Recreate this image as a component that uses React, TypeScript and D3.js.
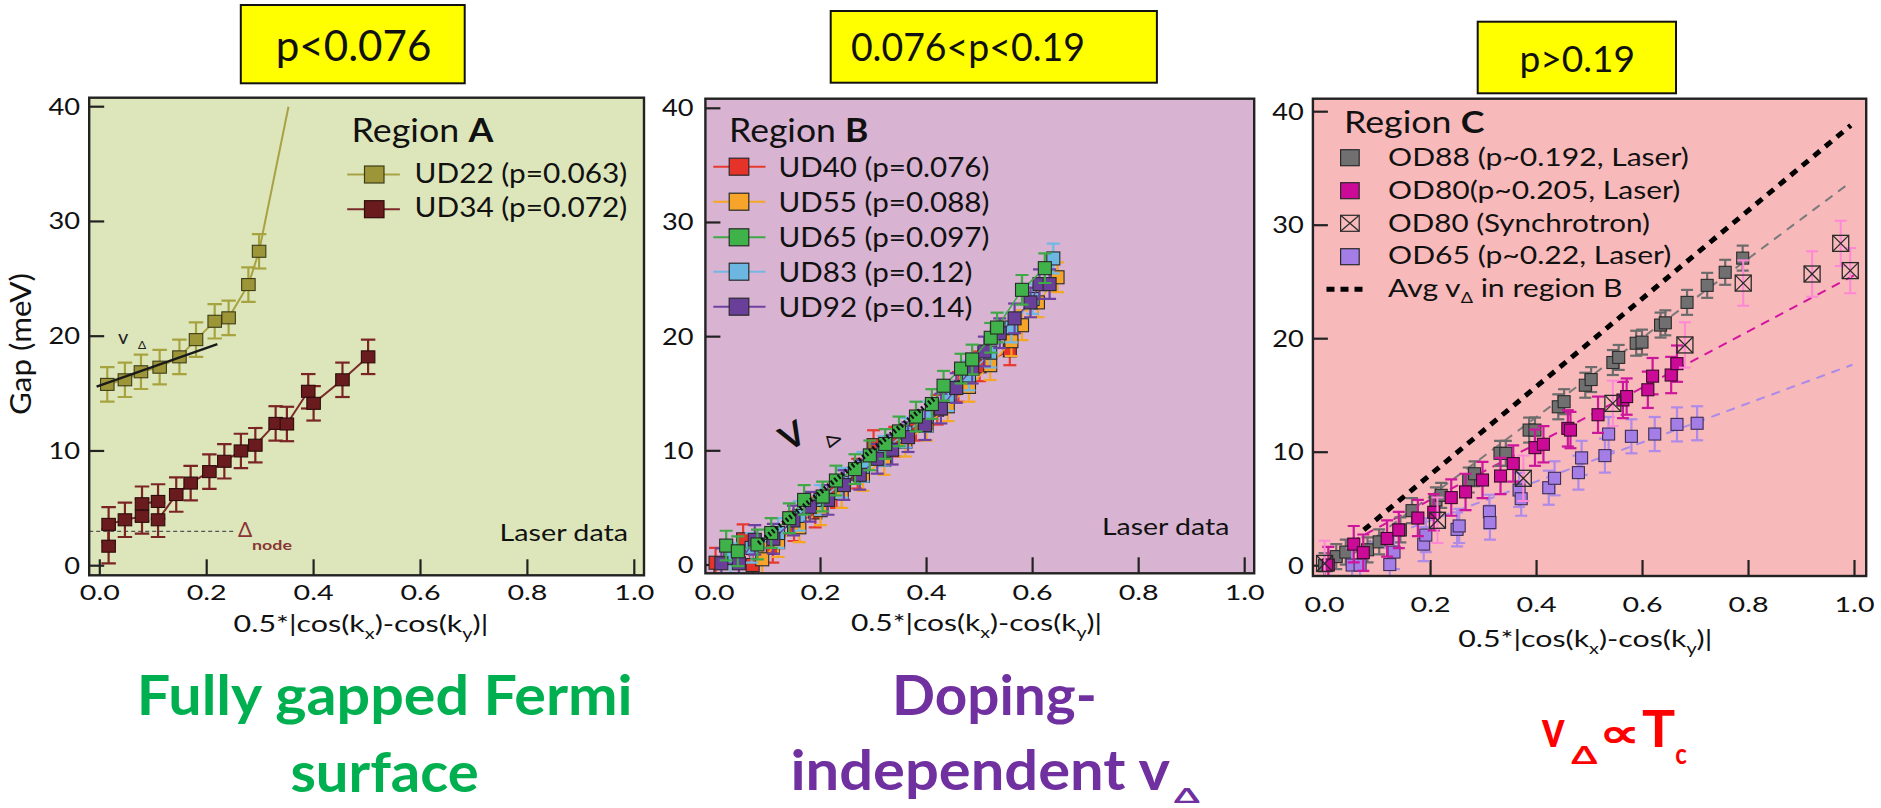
import React from 'react';
import * as d3 from 'd3';

type Pt = [number, number];

// ---------- shared ticks ----------
const X_TICKS = [0, 0.2, 0.4, 0.6, 0.8, 1.0];
const Y_TICKS = [0, 10, 20, 30, 40];

// ---------- Panel A (Region A) ----------
const UD22: Pt[] = [[0.014, 15.8], [0.047, 16.2], [0.077, 16.9], [0.112, 17.3], [0.149, 18.2], [0.18, 19.7], [0.215, 21.3], [0.241, 21.6], [0.278, 24.5], [0.298, 27.4]];
const UD22_TAIL: Pt[] = [[0.298, 27.4], [0.353, 40]];
const UD34: Pt[] = [[0.0165, 1.7], [0.0165, 3.6], [0.047, 4.0], [0.079, 4.3], [0.079, 5.4], [0.109, 5.6], [0.109, 4.0], [0.143, 6.2], [0.17, 7.2], [0.205, 8.2], [0.233, 9.1], [0.264, 10.0], [0.291, 10.5], [0.329, 12.4], [0.35, 12.35], [0.39, 15.2], [0.4, 14.15], [0.454, 16.2], [0.502, 18.2]];
const V_A_LINE: Pt[] = [[-0.006, 15.6], [0.22, 19.3]];
const DELTA_NODE = 3;
const ERR_UD22 = 1.5;
const ERR_UD34 = 1.5;

// ---------- Panel B (Region B) ----------
const UD40: Pt[] = [[0.002, 0.2], [0.054, 2.25], [0.072, 0.0], [0.11, 1.5], [0.15, 3.4], [0.19, 4.6], [0.23, 6.3], [0.27, 8.0], [0.3, 10.5], [0.34, 10.8], [0.38, 12.2], [0.42, 13.6], [0.46, 15.6], [0.5, 17.4], [0.557, 18.8]];
const UD55: Pt[] = [[0.09, 0.5], [0.12, 2.0], [0.16, 3.3], [0.2, 4.8], [0.24, 6.3], [0.28, 7.8], [0.32, 9.2], [0.36, 10.8], [0.4, 12.2], [0.44, 13.9], [0.48, 15.6], [0.52, 17.5], [0.56, 19.6], [0.58, 21.0], [0.61, 23.0], [0.647, 25.2]];
const UD65: Pt[] = [[0.022, 1.7], [0.044, 1.2], [0.081, 1.8], [0.107, 2.8], [0.141, 4.1], [0.169, 5.7], [0.204, 6.0], [0.229, 7.4], [0.265, 8.4], [0.293, 9.6], [0.322, 10.6], [0.348, 11.7], [0.38, 13.0], [0.41, 14.1], [0.432, 15.7], [0.465, 17.2], [0.486, 18.0], [0.521, 19.9], [0.533, 20.8], [0.58, 24.1], [0.623, 26.0]];
const UD83: Pt[] = [[0.03, 0.6], [0.07, 1.5], [0.12, 2.8], [0.16, 4.3], [0.2, 5.7], [0.24, 7.2], [0.28, 8.6], [0.32, 10.0], [0.36, 11.6], [0.4, 13.0], [0.44, 14.8], [0.48, 16.6], [0.52, 18.6], [0.56, 20.8], [0.6, 23.3], [0.639, 26.85]];
const UD92: Pt[] = [[0.013, 0.15], [0.046, 0.15], [0.076, 2.2], [0.111, 2.3], [0.149, 3.9], [0.18, 5.1], [0.214, 5.7], [0.244, 7.0], [0.274, 7.9], [0.307, 9.3], [0.335, 10.1], [0.365, 11.2], [0.397, 12.25], [0.427, 13.7], [0.456, 15.5], [0.486, 17.2], [0.509, 18.7], [0.538, 20.3], [0.566, 21.6], [0.596, 23.0], [0.613, 24.6], [0.632, 24.6]];
const V_B_LINE: Pt[] = [[0.083, 1.9], [0.415, 14.6]];
const ERR_B = 1.3;

// ---------- Panel C (Region C) ----------
const OD88: Pt[] = [[0.0, 0.0], [0.022, 0.8], [0.04, 1.2], [0.081, 1.4], [0.103, 2.1], [0.143, 3.15], [0.165, 4.85], [0.21, 5.8], [0.22, 6.2], [0.272, 7.55], [0.283, 8.1], [0.331, 9.9], [0.342, 9.9], [0.386, 11.95], [0.397, 11.95], [0.441, 14.0], [0.452, 14.45], [0.492, 15.9], [0.503, 16.4], [0.544, 17.9], [0.555, 18.35], [0.588, 19.6], [0.599, 19.7], [0.634, 21.2], [0.643, 21.4], [0.684, 23.2], [0.722, 24.7], [0.756, 25.85], [0.789, 27.1]];
const OD80: Pt[] = [[0.007, 0.06], [0.055, 1.9], [0.073, 1.15], [0.118, 2.4], [0.14, 3.15], [0.176, 4.2], [0.206, 4.7], [0.239, 6.0], [0.266, 6.5], [0.298, 7.55], [0.332, 7.9], [0.356, 9.0], [0.397, 10.4], [0.413, 10.7], [0.459, 12.1], [0.464, 11.95], [0.516, 13.3], [0.563, 14.6], [0.57, 14.9], [0.61, 15.5], [0.619, 16.7], [0.654, 16.8], [0.665, 17.8]];
const OD80_SYN: Pt[] = [[0.0, 0.2], [0.213, 4.0], [0.375, 7.7], [0.544, 14.3], [0.68, 19.45], [0.79, 24.9], [0.92, 25.7], [0.974, 28.4], [0.992, 26.0]];
const OD65: Pt[] = [[0.052, 0.06], [0.067, 0.06], [0.123, 0.1], [0.131, 1.2], [0.187, 1.9], [0.191, 2.7], [0.25, 3.2], [0.254, 3.5], [0.311, 4.75], [0.312, 3.8], [0.367, 6.67], [0.371, 5.9], [0.423, 6.87], [0.434, 7.7], [0.479, 8.2], [0.485, 9.5], [0.529, 9.7], [0.536, 11.6], [0.579, 11.4], [0.623, 11.6], [0.665, 12.45], [0.703, 12.55]];
const AVG_B_LINE: Pt[] = [[0.074, 3.15], [0.993, 38.8]];
const OD88_FIT: Pt[] = [[0.05, 0.9], [0.99, 33.7]];
const OD80_FIT: Pt[] = [[0.05, 2.1], [1.0, 25.6]];
const OD65_FIT: Pt[] = [[0.05, 1.4], [0.996, 17.7]];
const ERR_OD88 = 1.1;
const ERR_OD80 = 1.6;
const ERR_SYN = 2.0;
const ERR_OD65 = 1.5;

// ---------- text ----------
const BOX_LABELS = ['p<0.076', '0.076<p<0.19', 'p>0.19'];
const LEG_A = ['UD22 (p=0.063)', 'UD34 (p=0.072)'];
const LEG_B = ['UD40 (p=0.076)', 'UD55 (p=0.088)', 'UD65 (p=0.097)', 'UD83 (p=0.12)', 'UD92 (p=0.14)'];
const LEG_C = ['OD88 (p~0.192, Laser)', 'OD80(p~0.205, Laser)', 'OD80 (Synchrotron)', 'OD65 (p~0.22, Laser)'];

const FONT = "Lato, 'Open Sans', sans-serif";

// ---------- layout ----------
const GEO = {
  A: { L: 89.2, T: 97.7, R: 644, B: 575.3, x0: 99.8, x1: 634.3, y0: 565.7, y40: 106.7, tly: 600, ylr: 80, bg: '#dde6ba' },
  B: { L: 705.4, T: 98.7, R: 1254.2, B: 573.3, x0: 714.5, x1: 1244.7, y0: 565, y40: 108.3, tly: 600, ylr: 693.5, bg: '#d8b3d2' },
  C: { L: 1312.9, T: 98.7, R: 1866.2, B: 576, x0: 1324.6, x1: 1854.5, y0: 565.7, y40: 111.7, tly: 611.7, ylr: 1303.9, bg: '#f7b9ba' },
};

type Geo = typeof GEO.A;

function scales(g: Geo) {
  const sx = d3.scaleLinear().domain([0, 1]).range([g.x0, g.x1]);
  const sy = d3.scaleLinear().domain([0, 40]).range([g.y0, g.y40]);
  return { sx, sy };
}

const T = (p: any) => {
  const { x, y, w, fs, children, weight, fill, anchor, ...rest } = p;
  return (
    <text x={x} y={y} fontSize={fs} textLength={w} lengthAdjust="spacingAndGlyphs"
      fontWeight={weight || 400} fill={fill || '#111'} textAnchor={anchor || 'start'} {...rest}>
      {children}
    </text>
  );
};

function Frame({ g, id, titleX, titleW, titleY }: any) {
  const { sx, sy } = scales(g);
  return (
    <g>
      <rect x={g.L} y={g.T} width={g.R - g.L} height={g.B - g.T} fill={g.bg} />
      <clipPath id={id}><rect x={g.L} y={g.T} width={g.R - g.L} height={g.B - g.T} /></clipPath>
      {X_TICKS.map((t) => (
        <g key={'x' + t}>
          <line x1={sx(t)} x2={sx(t)} y1={g.B} y2={g.B - 16} stroke="#222" strokeWidth={2.2} />
          <T x={sx(t) - 20} y={g.tly} w={40} fs={22}>{d3.format('.1f')(t)}</T>
        </g>
      ))}
      {Y_TICKS.map((t) => {
        const lab = String(t);
        const w = lab.length * 15.8;
        return (
          <g key={'y' + t}>
            <line x1={g.L} x2={g.L + 15} y1={sy(t)} y2={sy(t)} stroke="#222" strokeWidth={2.2} />
            <T x={g.ylr - w} y={sy(t) + 8} w={w} fs={23}>{lab}</T>
          </g>
        );
      })}
      <text x={titleX} y={titleY} fontSize={23} textLength={titleW} lengthAdjust="spacingAndGlyphs" fill="#111">
        0.5*|cos(k<tspan fontSize={15} dy={7}>x</tspan><tspan dy={-7}>)-cos(k</tspan><tspan fontSize={15} dy={7}>y</tspan><tspan dy={-7}>)|</tspan>
      </text>
    </g>
  );
}

function Border({ g }: { g: Geo }) {
  return <rect x={g.L} y={g.T} width={g.R - g.L} height={g.B - g.T} fill="none" stroke="#222" strokeWidth={2.4} />;
}

function Series({ g, pts, err, barColor, fill, stroke, size, cap, line, lineW, sqW }: any) {
  const { sx, sy } = scales(g);
  const gen = d3.line<Pt>().x((d) => sx(d[0])).y((d) => sy(d[1]));
  const w = sqW || size;
  return (
    <g>
      {line && <path d={gen(pts) || ''} fill="none" stroke={line} strokeWidth={lineW || 1.8} />}
      {pts.map(([x, y]: Pt, i: number) => (
        <g key={'e' + i} stroke={barColor} strokeWidth={2.2}>
          <line x1={sx(x)} x2={sx(x)} y1={sy(y - err)} y2={sy(y + err)} />
          <line x1={sx(x) - cap / 2} x2={sx(x) + cap / 2} y1={sy(y - err)} y2={sy(y - err)} />
          <line x1={sx(x) - cap / 2} x2={sx(x) + cap / 2} y1={sy(y + err)} y2={sy(y + err)} />
        </g>
      ))}
      {pts.map(([x, y]: Pt, i: number) => (
        <rect key={'m' + i} x={sx(x) - w / 2} y={sy(y) - size / 2} width={w} height={size}
          fill={fill} stroke={stroke} strokeWidth={1.1} />
      ))}
    </g>
  );
}

function CrossSeries({ g, pts, err, barColor, size, cap }: any) {
  const { sx, sy } = scales(g);
  return (
    <g>
      {pts.map(([x, y]: Pt, i: number) => (
        <g key={'e' + i} stroke={barColor} strokeWidth={2}>
          <line x1={sx(x)} x2={sx(x)} y1={sy(y - err)} y2={sy(y + err)} />
          <line x1={sx(x) - cap / 2} x2={sx(x) + cap / 2} y1={sy(y - err)} y2={sy(y - err)} />
          <line x1={sx(x) - cap / 2} x2={sx(x) + cap / 2} y1={sy(y + err)} y2={sy(y + err)} />
        </g>
      ))}
      {pts.map(([x, y]: Pt, i: number) => {
        const cx = sx(x), cy = sy(y), h = size / 2;
        return (
          <g key={'m' + i} stroke="#2a2a2a" strokeWidth={1.3} fill="none">
            <rect x={cx - h} y={cy - h} width={size} height={size} />
            <line x1={cx - h} y1={cy - h} x2={cx + h} y2={cy + h} />
            <line x1={cx - h} y1={cy + h} x2={cx + h} y2={cy - h} />
          </g>
        );
      })}
    </g>
  );
}

function Line({ g, pts, ...rest }: any) {
  const { sx, sy } = scales(g);
  const gen = d3.line<Pt>().x((d) => sx(d[0])).y((d) => sy(d[1]));
  return <path d={gen(pts) || ''} fill="none" {...rest} />;
}

const COL_B = [
  { data: UD40, fill: '#e5332a', bar: '#e8392f' },
  { data: UD55, fill: '#f6a52a', bar: '#f5a623' },
  { data: UD65, fill: '#3fb34a', bar: '#3fa847' },
  { data: UD83, fill: '#6cb7e2', bar: '#72b8e4' },
  { data: UD92, fill: '#6a3f99', bar: '#6e42a0' },
];
const DRAW_ORDER_B = [0, 1, 3, 4, 2];

export default function App() {
  const A = GEO.A, B = GEO.B, C = GEO.C;
  const sA = scales(A);
  return (
    <svg width={1881} height={808} style={{ position: 'absolute', left: 0, top: 0, background: '#fff' }} fontFamily={FONT}>
      {/* yellow boxes */}
      <rect x={240.8} y={5} width={223.9} height={78.3} fill="#ffff00" stroke="#111" strokeWidth={2} />
      <T x={275.7} y={61} w={155.7} fs={43}>{BOX_LABELS[0]}</T>
      <rect x={830.7} y={11} width={326.2} height={71.7} fill="#ffff00" stroke="#111" strokeWidth={2} />
      <T x={850.9} y={61} w={234.1} fs={38.5}>{BOX_LABELS[1]}</T>
      <rect x={1477.7} y={21.7} width={198.3} height={71.6} fill="#ffff00" stroke="#111" strokeWidth={2} />
      <T x={1519.4} y={72.3} w={115.7} fs={36}>{BOX_LABELS[2]}</T>

      {/* ---------- Panel A ---------- */}
      <Frame g={A} id="clipA" titleX={233.6} titleW={254.7} titleY={631.7} />
      <text transform="translate(31,344) rotate(-90)" x={-71} y={0} fontSize={28} textLength={142} lengthAdjust="spacingAndGlyphs" fill="#111">Gap (meV)</text>
      <g clipPath="url(#clipA)">
        <line x1={A.L} x2={sA.sx(0.254)} y1={sA.sy(DELTA_NODE)} y2={sA.sy(DELTA_NODE)} stroke="#555" strokeWidth={1.3} strokeDasharray="4,3" />
        <Line g={A} pts={UD22_TAIL} stroke="#a8a245" strokeWidth={2} />
        <Series g={A} pts={UD22} err={ERR_UD22} barColor="#a7a33f" fill="#9c9638" stroke="#3e3c18" size={12} sqW={13.5} cap={14.5} line="#a8a245" lineW={2} />
        <Series g={A} pts={UD34} err={ERR_UD34} barColor="#7a2424" fill="#6a1b1e" stroke="#2e0c0c" size={12} sqW={13.5} cap={14.5} line="#7a2a2a" lineW={2} />
        <Line g={A} pts={V_A_LINE} stroke="#1a1a1a" strokeWidth={2.4} />
      </g>
      <text x={118} y={344} fontSize={20} fill="#222">v</text>
      <text x={138} y={349} fontSize={12} fill="#222">Δ</text>
      <text x={238} y={537} fontSize={21} fill="#8a3535">Δ</text>
      <text x={252} y={550} fontSize={14} fontWeight={700} fill="#8a3535" textLength={40} lengthAdjust="spacingAndGlyphs">node</text>
      <T x={499.6} y={540.7} w={128.4} fs={24}>Laser data</T>
      {/* legend A */}
      <text x={351.5} y={141.7} fontSize={32} textLength={141.8} lengthAdjust="spacingAndGlyphs" fill="#111">Region <tspan fontWeight={700}>A</tspan></text>
      {LEG_A.map((lab, i) => {
        const cy = [174.5, 209.2][i];
        const c = i === 0 ? { l: '#a8a245', f: '#9c9638', s: '#3e3c18' } : { l: '#7a2a2a', f: '#6a1b1e', s: '#2e0c0c' };
        return (
          <g key={lab}>
            <line x1={347.2} x2={399.9} y1={cy} y2={cy} stroke={c.l} strokeWidth={2} />
            <rect x={364.5} y={cy - 8.5} width={19.5} height={17} fill={c.f} stroke={c.s} strokeWidth={1.2} />
            <T x={414.6} y={[182.7, 217.3][i]} w={212.6} fs={27}>{lab}</T>
          </g>
        );
      })}
      <Border g={A} />

      {/* ---------- Panel B ---------- */}
      <Frame g={B} id="clipB" titleX={850.9} titleW={251.1} titleY={631} />
      <g clipPath="url(#clipB)">
        {DRAW_ORDER_B.map((k) => (
          <Series key={k} g={B} pts={COL_B[k].data} err={ERR_B} barColor={COL_B[k].bar} fill={COL_B[k].fill} stroke="#2a2a2a" size={13} cap={13} line={COL_B[k].bar} lineW={1.5} />
        ))}
        <Line g={B} pts={V_B_LINE} stroke="#111" strokeWidth={5} strokeDasharray="2,2.5" />
      </g>
      <text transform={`translate(788,452) rotate(-30)`} fontSize={34} fontWeight={700} fill="#111">V</text>
      <text transform={`translate(826,436) rotate(75)`} fontSize={19} fill="#111">Δ</text>
      <T x={1102} y={535} w={127.3} fs={24}>Laser data</T>
      <text x={729.1} y={141.7} fontSize={32} textLength={139.2} lengthAdjust="spacingAndGlyphs" fill="#111">Region <tspan fontWeight={700}>B</tspan></text>
      {LEG_B.map((lab, i) => {
        const cy = [166.7, 201.7, 237.3, 271.7, 306.7][i];
        return (
          <g key={lab}>
            <line x1={713.3} x2={765.5} y1={cy} y2={cy} stroke={COL_B[i].bar} strokeWidth={2} />
            <rect x={729.2} y={cy - 8.5} width={19.6} height={17} fill={COL_B[i].fill} stroke="#2a2a2a" strokeWidth={1.2} />
            <T x={778.5} y={[176.7, 211.7, 246.7, 281.7, 316.7][i]} w={i < 3 ? 210.8 : 193.8} fs={26}>{lab}</T>
          </g>
        );
      })}
      <Border g={B} />

      {/* ---------- Panel C ---------- */}
      <Frame g={C} id="clipC" titleX={1458.2} titleW={254.1} titleY={647.3} />
      <g clipPath="url(#clipC)">
        <Line g={C} pts={OD88_FIT} stroke="#7a7a7a" strokeWidth={2} strokeDasharray="9,7" />
        <Line g={C} pts={OD80_FIT} stroke="#d3149f" strokeWidth={2} strokeDasharray="9,7" />
        <Line g={C} pts={OD65_FIT} stroke="#a98ae8" strokeWidth={2} strokeDasharray="9,7" />
        <Line g={C} pts={AVG_B_LINE} stroke="#000" strokeWidth={5} strokeDasharray="8,7" />
        <Series g={C} pts={OD88} err={ERR_OD88} barColor="#6c6c6c" fill="#707070" stroke="#2c2c2c" size={12} cap={12} />
        <Series g={C} pts={OD65} err={ERR_OD65} barColor="#b08ae8" fill="#a47ee6" stroke="#3d2e55" size={12} cap={12} />
        <Series g={C} pts={OD80} err={ERR_OD80} barColor="#cc169c" fill="#cc0a98" stroke="#3a0a2a" size={12} cap={12} />
        <CrossSeries g={C} pts={OD80_SYN} err={ERR_SYN} barColor="#ff88d6" size={16} cap={12} />
      </g>
      <text x={1344} y={133.3} fontSize={31} textLength={140.3} lengthAdjust="spacingAndGlyphs" fill="#111">Region <tspan fontWeight={700}>C</tspan></text>
      {LEG_C.map((lab, i) => {
        const cy = [157.7, 190.7, 223.3, 256.7][i];
        const fills = ['#707070', '#cc0a98', 'none', '#a47ee6'];
        return (
          <g key={lab}>
            <rect x={1340.6} y={cy - 8} width={18.6} height={16} fill={fills[i]} stroke="#2a2a2a" strokeWidth={1.2} />
            {i === 2 && (
              <g stroke="#2a2a2a" strokeWidth={1.2}>
                <line x1={1340.6} y1={cy - 8} x2={1359.2} y2={cy + 8} />
                <line x1={1340.6} y1={cy + 8} x2={1359.2} y2={cy - 8} />
              </g>
            )}
            <T x={1388.1} y={[165.7, 199, 231.7, 264.3][i]} w={[300.8, 292.2, 261.8, 283.3][i]} fs={25}>{lab}</T>
          </g>
        );
      })}
      <line x1={1326.5} x2={1367.4} y1={289.3} y2={289.3} stroke="#000" strokeWidth={5} strokeDasharray="8,6" />
      <text x={1388.1} y={296.7} fontSize={25} textLength={234.5} lengthAdjust="spacingAndGlyphs" fill="#111">
        Avg v<tspan fontSize={15} dy={6}>Δ</tspan><tspan dy={-6}> in region B</tspan>
      </text>
      <Border g={C} />

      {/* ---------- bottom annotations ---------- */}
      <T x={136.8} y={715} w={495.8} fs={56} weight={700} fill="#00b050">Fully gapped Fermi</T>
      <T x={290.4} y={791.7} w={188.2} fs={56} weight={700} fill="#00b050">surface</T>
      <T x={892} y={715} w={204.8} fs={56} weight={700} fill="#7030a0">Doping-</T>
      <T x={790.4} y={790} w={379.6} fs={56} weight={700} fill="#7030a0">independent v</T>
      <T x={1173.9} y={803} w={25.7} fs={21} weight={700} fill="#7030a0">Δ</T>
      <T x={1541.6} y={746.7} w={23.4} fs={51} weight={700} fill="#ff0000">v</T>
      <T x={1571.2} y={764} w={26.1} fs={24} weight={700} fill="#ff0000">Δ</T>
      <T x={1598.5} y={746.7} w={41.7} fs={40} weight={700} fill="#ff0000">∝</T>
      <T x={1642.1} y={746.7} w={33.2} fs={51} weight={700} fill="#ff0000">T</T>
      <T x={1675.3} y={764} w={11.6} fs={28} weight={700} fill="#ff0000">c</T>
    </svg>
  );
}
